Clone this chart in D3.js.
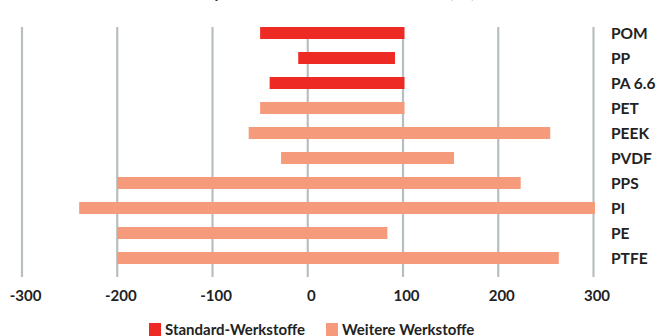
<!DOCTYPE html>
<html>
<head>
<meta charset="utf-8">
<script src="https://cdn.jsdelivr.net/npm/d3@7"></script>
<style>
  body { margin: 0; background: #fff; }
  svg { display: block; font-family: Lato, "Open Sans", sans-serif; font-weight: bold; }
</style>
</head>
<body>
<div id="chart"></div>
<script>
// Temperature range chart (horizontal floating bars)

const materials = ["POM", "PP", "PA 6.6", "PET", "PEEK", "PVDF", "PPS", "PI", "PE", "PTFE"];
const minTemp   = [-50, -10, -40, -50, -62, -28, -200, -240, -200, -200];
const maxTemp   = [100, 90, 100, 100, 253, 152, 222, 300, 82, 262];
const groups    = ["Standard", "Standard", "Standard", "Weitere", "Weitere", "Weitere", "Weitere", "Weitere", "Weitere", "Weitere"];
const xTicks    = [-300, -200, -100, 0, 100, 200, 300];
const legendNames = ["Standard-Werkstoffe", "Weitere Werkstoffe"];

const w = 661;
const h = 336;
const col_std = "#ee2a24";
const col_other = "#f59b7b";
const grid_color = "#b7bebf";

const dataset = materials.map((m, i) => ({
	name: m, lo: minTemp[i], hi: maxTemp[i], group: groups[i]
}));

const svg = d3.select("#chart")
			  .append("svg")
			  .attr("width", w)
			  .attr("height", h);

// Scales
const xScale = d3.scaleLinear()
				 .domain([-300, 300])
				 .range([22, 593.5]);

const yScale = d3.scaleBand()
				 .domain(materials)
				 .range([20.5, 270.5])
				 .paddingInner(0.52)
				 .paddingOuter(0.26);

// Title (mostly cut off at the top edge)
svg.append("text")
   .attr("x", 330)
   .attr("y", -2)
   .attr("text-anchor", "middle")
   .style("font-size", "16px")
   .style("fill", "#333")
   .text("Temperaturbereich von Kunststoffen (°C)");

// Grid lines
svg.append("g")
   .selectAll("line")
   .data(xTicks)
   .enter()
   .append("line")
   .attr("x1", d => xScale(d))
   .attr("x2", d => xScale(d))
   .attr("y1", 27)
   .attr("y2", 277)
   .attr("stroke", grid_color)
   .attr("stroke-width", 2.2);

// Bars
svg.append("g")
   .selectAll("rect")
   .data(dataset)
   .enter()
   .append("rect")
   .attr("x", d => xScale(d.lo))
   .attr("y", d => yScale(d.name))
   .attr("width", d => xScale(d.hi) - xScale(d.lo) + 1.5)
   .attr("height", yScale.bandwidth())
   .attr("fill", d => d.group === "Standard" ? col_std : col_other);

// Category labels on the right
svg.append("g")
   .selectAll("text")
   .data(materials)
   .enter()
   .append("text")
   .attr("x", 611)
   .attr("y", d => yScale(d) + yScale.bandwidth() / 2 + 6)
   .style("font-size", "15.5px")
   .style("fill", "#222")
   .text(d => d);

// X axis labels
const x_axis = d3.axisBottom(xScale)
				 .tickValues(xTicks)
				 .tickSize(0)
				 .tickPadding(0)
				 .tickFormat(d => String(d));

const gx = svg.append("g")
			  .attr("transform", "translate(3,290)")
			  .call(x_axis);
gx.select(".domain").remove();
gx.selectAll("text")
  .style("font-family", "Lato, 'Open Sans', sans-serif")
  .style("font-weight", "bold")
  .style("font-size", "15px")
  .style("fill", "#222");

// Legend
const legend = svg.append("g");
const legendX = [149, 326];
const legendColors = [col_std, col_other];
legendNames.forEach((name, i) => {
	legend.append("rect")
		  .attr("x", legendX[i])
		  .attr("y", 323)
		  .attr("width", 12)
		  .attr("height", 13)
		  .attr("fill", legendColors[i]);
	legend.append("text")
		  .attr("x", legendX[i] + 16)
		  .attr("y", 335)
		  .style("font-size", "15px")
		  .style("fill", "#222")
		  .text(name);
});
</script>
</body>
</html>
